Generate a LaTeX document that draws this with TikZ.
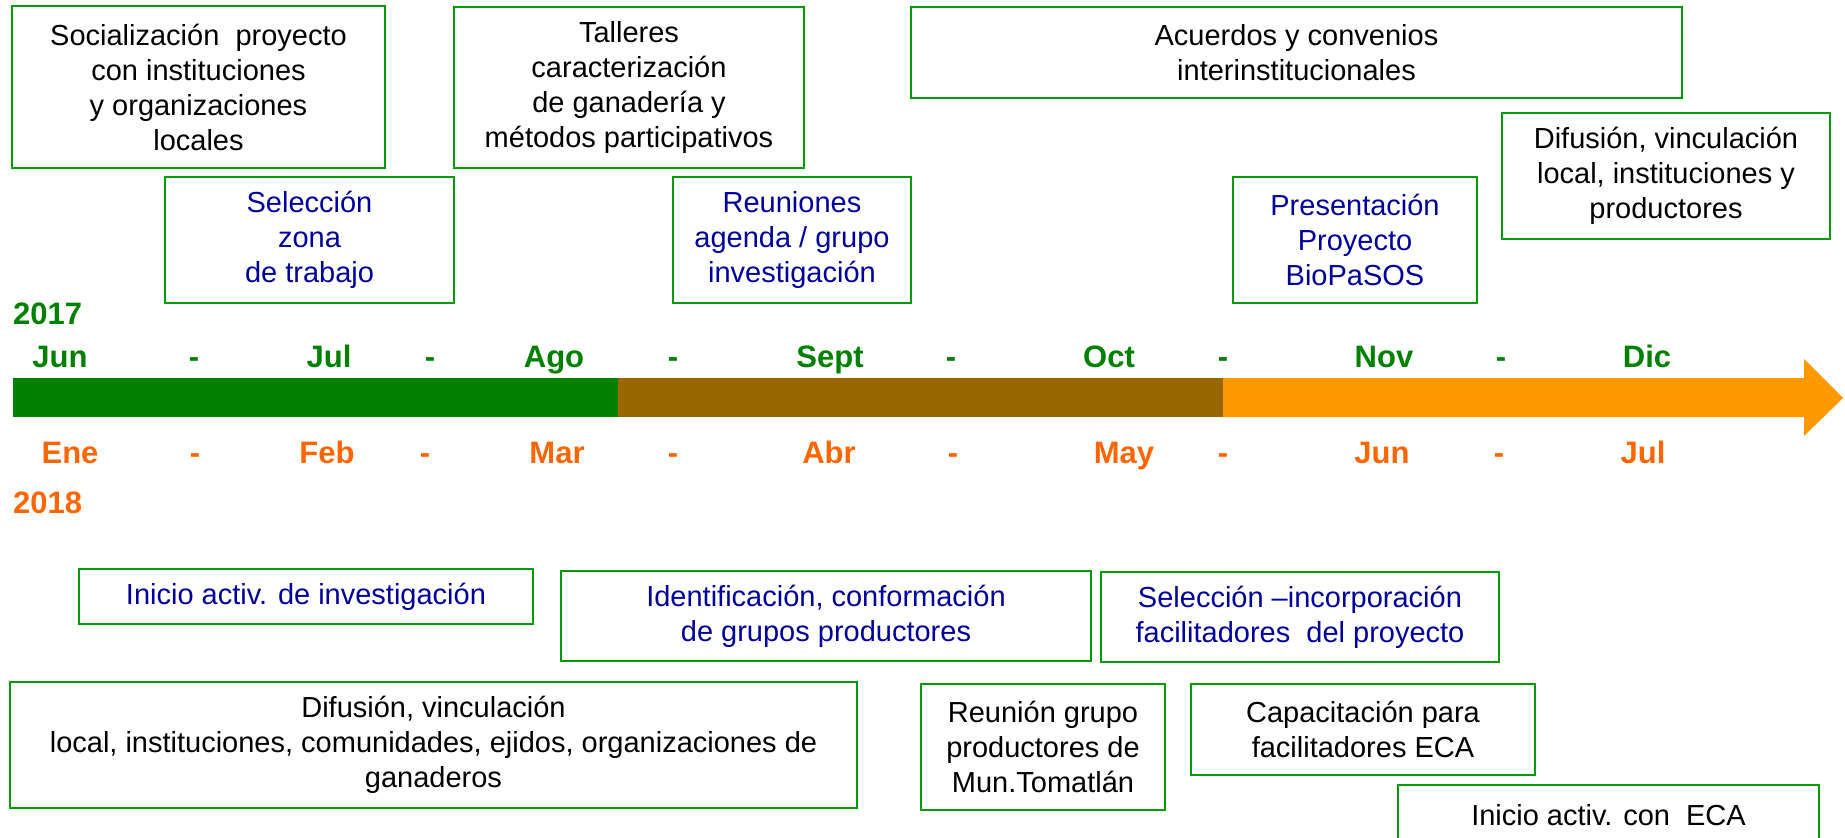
\documentclass[tikz,border=0pt]{standalone}
\usepackage{fontspec}
\setmainfont{Liberation Sans}
\definecolor{boxgreen}{RGB}{0,155,0}
\definecolor{txtblue}{RGB}{0,0,153}
\definecolor{mgreen}{RGB}{0,128,0}
\definecolor{morange}{RGB}{255,102,0}
\definecolor{bargreen}{RGB}{0,128,0}
\definecolor{barbrown}{RGB}{153,102,0}
\definecolor{barorange}{RGB}{255,153,0}
\tikzset{
  evbox/.style={draw=boxgreen, line width=2pt, align=center, inner sep=0pt,
    font=\fontsize{29}{35}\selectfont},
  blk/.style={evbox, text=black},
  blu/.style={evbox, text=txtblue},
  mtop/.style={anchor=base, inner sep=0pt, text=mgreen, font=\fontsize{31}{37}\selectfont\bfseries},
  mbot/.style={anchor=base, inner sep=0pt, text=morange, font=\fontsize{31}{37}\selectfont\bfseries},
}
\newcommand{\evbox}[7]{% style, name, x1, y1, x2, y2, text
  \node[#1, minimum width={#5-#3}, minimum height={#6-#4}] (#2) at ({(#3+#5)/2},{(#4+#6)/2}) {#7};}
\begin{document}
\begin{tikzpicture}[x=1pt,y=-1pt]
\useasboundingbox (0,0) rectangle (1845,838);
% timeline bar
\fill[bargreen] (13,378) rectangle (618,417);
\fill[barbrown] (618,378) rectangle (1223,417);
\fill[barorange] (1223,378) -- (1804,378) -- (1804,359) -- (1843,398) -- (1804,436) -- (1804,417) -- (1223,417) -- cycle;
% years
\node[anchor=base west, inner sep=0pt, text=mgreen, font=\fontsize{31}{37}\selectfont\bfseries] (y17) at (13,324) {2017};
\node[anchor=base west, inner sep=0pt, text=morange, font=\fontsize{31}{37}\selectfont\bfseries] (y18) at (13,513) {2018};
% top months
\node[mtop] (t1) at (60,367) {Jun};
\node[mtop] (t2) at (194,367) {-};
\node[mtop] (t3) at (329,367) {Jul};
\node[mtop] (t4) at (430,367) {-};
\node[mtop] (t5) at (554,367) {Ago};
\node[mtop] (t6) at (673,367) {-};
\node[mtop] (t7) at (830,367) {Sept};
\node[mtop] (t8) at (951,367) {-};
\node[mtop] (t9) at (1109,367) {Oct};
\node[mtop] (t10) at (1223,367) {-};
\node[mtop] (t11) at (1384,367) {Nov};
\node[mtop] (t12) at (1501,367) {-};
\node[mtop] (t13) at (1647,367) {Dic};
% bottom months
\node[mbot] (b1) at (70,463) {Ene};
\node[mbot] (b2) at (195,463) {-};
\node[mbot] (b3) at (327,463) {Feb};
\node[mbot] (b4) at (425,463) {-};
\node[mbot] (b5) at (557,463) {Mar};
\node[mbot] (b6) at (673,463) {-};
\node[mbot] (b7) at (829,463) {Abr};
\node[mbot] (b8) at (953,463) {-};
\node[mbot] (b9) at (1124,463) {May};
\node[mbot] (b10) at (1223,463) {-};
\node[mbot] (b11) at (1382,463) {Jun};
\node[mbot] (b12) at (1499,463) {-};
\node[mbot] (b13) at (1643,463) {Jul};
% upper boxes
\evbox{blk}{soc}{12}{6}{385}{168}{Socialización\ \ proyecto\\con instituciones\\y organizaciones\\locales}
\evbox{blu}{sel}{165}{177}{454}{303}{Selección\\zona\\de trabajo}
\evbox{blk}{tal}{454}{7}{804}{168}{Talleres\\caracterización\\de ganadería y\\métodos participativos}
\evbox{blu}{reu}{673}{177}{911}{303}{Reuniones\\agenda / grupo\\investigación}
\evbox{blk}{acu}{911}{7}{1682}{98}{Acuerdos y convenios\\interinstitucionales}
\evbox{blu}{pre}{1233}{177}{1477}{303}{Presentación\\Proyecto\\BioPaSOS}
\evbox{blk}{dif1}{1502}{113}{1830}{239}{Difusión, vinculación\\local, instituciones y\\productores}
% lower boxes
\evbox{blu}{ini}{79}{569}{533}{624}{Inicio activ. de investigación}
\evbox{blu}{ide}{561}{571}{1091}{661}{Identificación, conformación\\de grupos productores}
\evbox{blu}{inc}{1101}{572}{1499}{662}{Selección –incorporación\\facilitadores\ \ del proyecto}
\evbox{blk}{dif2}{10}{682}{857}{808}{Difusión, vinculación\\local, instituciones, comunidades, ejidos, organizaciones de\\ganaderos}
\evbox{blk}{rgp}{921}{684}{1165}{810}{Reunión grupo\\productores de\\Mun.Tomatlán}
\evbox{blk}{cap}{1191}{684}{1535}{775}{Capacitación para\\facilitadores ECA}
\evbox{blk}{eca}{1398}{785}{1819}{845}{Inicio activ. con\ \ ECA}
\end{tikzpicture}
\end{document}
